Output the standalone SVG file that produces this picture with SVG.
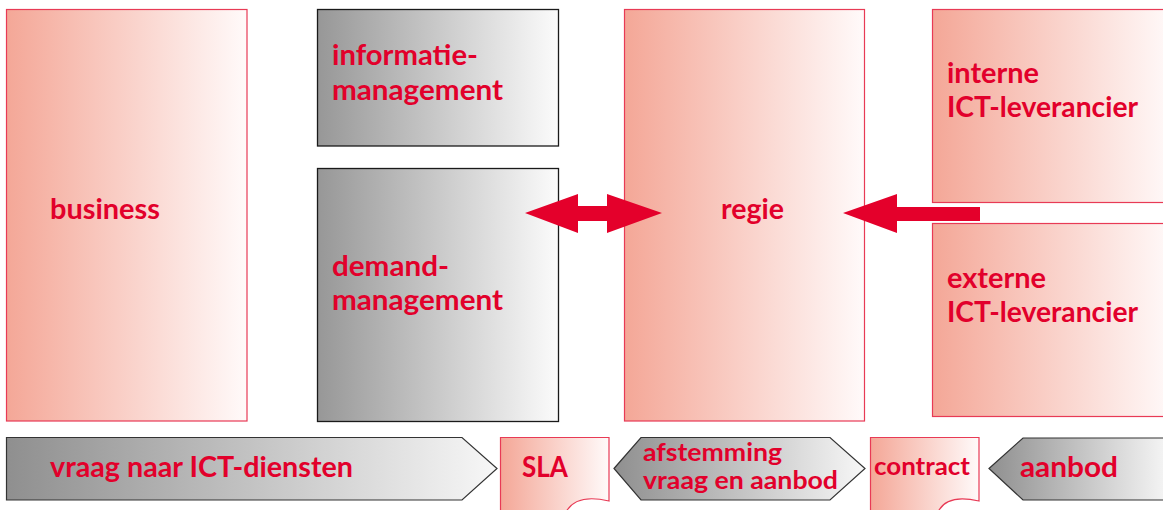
<svg xmlns="http://www.w3.org/2000/svg" width="1163" height="510" viewBox="0 0 1163 510">
<defs>
<linearGradient id="salmon" x1="0" y1="0" x2="1" y2="0">
<stop offset="0" stop-color="#f4a797"/>
<stop offset="1" stop-color="#fffafa"/>
</linearGradient>
<linearGradient id="gray" x1="0" y1="0" x2="1" y2="0">
<stop offset="0" stop-color="#979797"/>
<stop offset="1" stop-color="#fbfbfb"/>
</linearGradient>
<linearGradient id="grayArrow" x1="0" y1="0" x2="1" y2="0">
<stop offset="0" stop-color="#8f8f8f"/>
<stop offset="1" stop-color="#f7f7f7"/>
</linearGradient>
</defs>
<style>
.s{fill:url(#salmon);stroke:#e83a55;stroke-width:1.2}
.g{fill:url(#gray);stroke:#1a1a1a;stroke-width:1.3}
.ga{fill:url(#grayArrow);stroke:#333;stroke-width:1.2}
.t{font-family:Lato,"Liberation Sans",sans-serif;font-weight:700;font-size:28px;fill:#e2002b}
.sm{font-size:25px}
.arr{fill:#e4002b}
</style>
<g id="business"><rect class="s" x="6.5" y="9.5" width="240.5" height="411.5"/><text class="t" x="50" y="219" textLength="110" lengthAdjust="spacingAndGlyphs">business</text></g>
<g id="informatiemanagement"><rect class="g" x="317.5" y="9.5" width="241" height="136.5"/><text class="t" x="332" y="65" textLength="146" lengthAdjust="spacingAndGlyphs">informatie-</text><text class="t" x="332" y="100" textLength="171" lengthAdjust="spacingAndGlyphs">management</text></g>
<g id="demandmanagement"><rect class="g" x="317.5" y="168.5" width="241" height="253"/><text class="t" x="332" y="276" textLength="117" lengthAdjust="spacingAndGlyphs">demand-</text><text class="t" x="332" y="310" textLength="171" lengthAdjust="spacingAndGlyphs">management</text></g>
<g id="regie"><rect class="s" x="624.5" y="9.5" width="240" height="411.5"/><text class="t" x="721" y="219" textLength="63" lengthAdjust="spacingAndGlyphs">regie</text></g>
<g id="interne"><rect class="s" x="932.5" y="9.5" width="240" height="193"/><text class="t" x="947" y="83" textLength="92" lengthAdjust="spacingAndGlyphs">interne</text><text class="t" x="947" y="117" textLength="191" lengthAdjust="spacingAndGlyphs">ICT-leverancier</text></g>
<g id="externe"><rect class="s" x="932.5" y="223.5" width="240" height="193"/><text class="t" x="947" y="288" textLength="99" lengthAdjust="spacingAndGlyphs">externe</text><text class="t" x="947" y="322" textLength="191" lengthAdjust="spacingAndGlyphs">ICT-leverancier</text></g>
<g id="connectors">
<path class="arr" d="M525,213 L578,194 L578,206 L607,206 L607,194 L662,213 L607,233 L607,221 L578,221 L578,233 Z"/>
<path class="arr" d="M843,213 L897,194 L897,207 L980,207 L980,221 L897,221 L897,233 Z"/>
</g>
<g id="vraag"><path class="ga" d="M6.5,437.5 H462 L497,468.5 L462,500 H6.5 Z"/><text class="t" x="50" y="477" textLength="303" lengthAdjust="spacingAndGlyphs">vraag naar ICT-diensten</text></g>
<g id="sla"><path class="s" d="M500.5,437.5 H609 V501 C592,497 574,497 566,512 H500.5 Z"/><text class="t" x="522" y="477" textLength="46" lengthAdjust="spacingAndGlyphs">SLA</text></g>
<g id="afstemming"><path class="ga" d="M614,468.5 L641,437.5 H830 L865,468.5 L830,500 H641 Z"/><text class="t sm" x="643" y="461" textLength="139" lengthAdjust="spacingAndGlyphs">afstemming</text><text class="t sm" x="643" y="489" textLength="195" lengthAdjust="spacingAndGlyphs">vraag en aanbod</text></g>
<g id="contract"><path class="s" d="M870.5,437.5 H979 V501 C962,497 945,497 938,512 H870.5 Z"/><text class="t sm" x="874" y="475" textLength="96" lengthAdjust="spacingAndGlyphs">contract</text></g>
<g id="aanbod"><path class="ga" d="M989,468.5 L1023,438 H1170 V500 H1023 Z"/><text class="t" x="1020" y="477" textLength="98" lengthAdjust="spacingAndGlyphs">aanbod</text></g>
</svg>
